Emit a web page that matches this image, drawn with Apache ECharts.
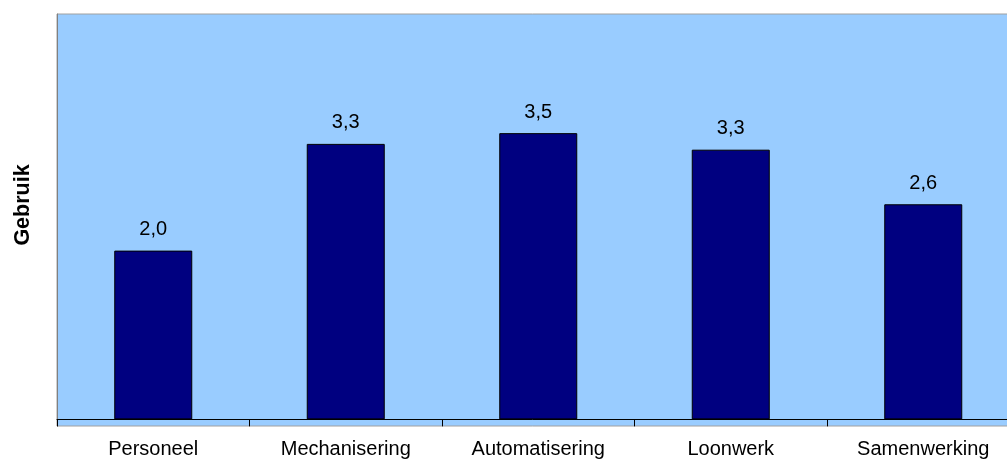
<!DOCTYPE html>
<html>
<head>
<meta charset="utf-8">
<script src="https://cdn.jsdelivr.net/npm/echarts@6/dist/echarts.min.js"></script>
<style>
html,body{margin:0;padding:0;background:#fff;}
#chart{width:1007px;height:461px;}
</style>
</head>
<body>
<div id="chart"></div>
<script>
var categories = ['Personeel', 'Mechanisering', 'Automatisering', 'Loonwerk', 'Samenwerking'];
var values = [2.04, 3.33, 3.46, 3.26, 2.60];
var axisTitle = 'Gebruik';

var chart = echarts.init(document.getElementById('chart'), null, {renderer: 'canvas'});
var font = '"Liberation Sans", Arial, sans-serif';
chart.setOption({
  animation: false,
  grid: {
    left: 57, top: 14, bottom: 35, width: 962.5,
    outerBoundsMode: 'none', containLabel: false,
    show: true, backgroundColor: '#99CCFF', borderColor: '#A0A0A0', borderWidth: 1
  },
  graphic: [{
    type: 'text', x: 23, y: 205, rotation: Math.PI / 2,
    style: {
      text: axisTitle, fontFamily: font, fontSize: 21.5, fontWeight: 'bold',
      fill: '#000', textAlign: 'center', textVerticalAlign: 'middle'
    }
  }],
  xAxis: {
    type: 'category', data: categories,
    axisLine: {onZero: true, lineStyle: {color: '#000', width: 1}},
    axisTick: {show: true, length: 7, lineStyle: {color: '#000'}},
    axisLabel: {color: '#000', fontFamily: font, fontSize: 20, margin: 13}
  },
  yAxis: {
    type: 'value', min: -0.08, max: 4.9,
    axisLine: {show: true, onZero: false, lineStyle: {color: '#808080', width: 1}},
    axisTick: {show: false}, axisLabel: {show: false}, splitLine: {show: false}
  },
  series: [{
    type: 'bar', data: values, barWidth: 78,
    itemStyle: {color: '#000080', borderColor: '#000', borderWidth: 1},
    label: {
      show: true, position: 'top', distance: 11, color: '#000',
      fontFamily: font, fontSize: 20,
      formatter: function (p) { return p.value.toFixed(1).replace('.', ','); }
    }
  }]
});
</script>
</body>
</html>
